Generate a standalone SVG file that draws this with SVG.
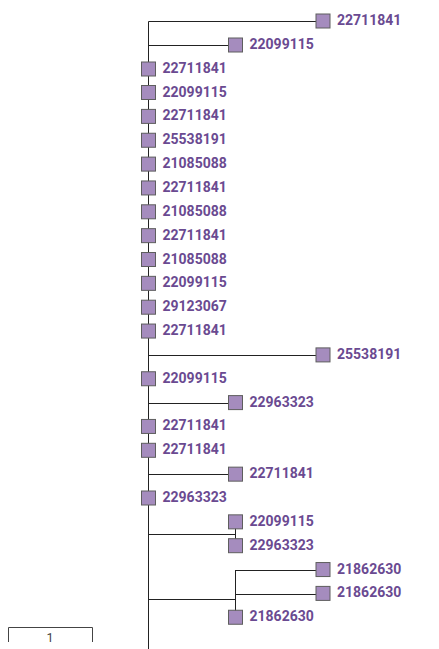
<svg xmlns="http://www.w3.org/2000/svg" width="439" height="649" viewBox="0 0 439 649">
<style>
.e{stroke:#222;stroke-width:1;fill:none}
.b{fill:#a58cbe;stroke:#5e5e5e;stroke-width:1}
.t{font-family:Roboto,"Liberation Sans",sans-serif;font-weight:bold;font-size:14px;fill:#6a4a91}
.s{font-family:Roboto,"Liberation Sans",sans-serif;font-size:12.5px;fill:#444}
</style>
<rect width="439" height="649" fill="#fff"/>
<g id="connectors">
<path class="e" d="M148.5 21.5V649"/>
<path class="e" d="M148.5 21.5H316"/>
<path class="e" d="M148.5 45.5H228"/>
<path class="e" d="M148.5 355.5H316"/>
<path class="e" d="M148.5 403.5H228"/>
<path class="e" d="M148.5 474.5H228"/>
<path class="e" d="M148.5 534.5H235.5M235.5 522V546"/>
<path class="e" d="M148.5 599.5H235.5M235.5 570V617M235.5 570.5H316M235.5 594.5H316"/>
</g>
<g id="n0"><rect class="b" x="316" y="14" width="14" height="14"/><text class="t" x="337" y="25">22711841</text></g>
<g id="n1"><rect class="b" x="228.5" y="38" width="14" height="14"/><text class="t" x="249.5" y="49">22099115</text></g>
<g id="n2"><rect class="b" x="141.5" y="62" width="14" height="14"/><text class="t" x="162.5" y="73">22711841</text></g>
<g id="n3"><rect class="b" x="141.5" y="85.5" width="14" height="14"/><text class="t" x="162.5" y="96.5">22099115</text></g>
<g id="n4"><rect class="b" x="141.5" y="109.4" width="14" height="14"/><text class="t" x="162.5" y="120.4">22711841</text></g>
<g id="n5"><rect class="b" x="141.5" y="133.25" width="14" height="14"/><text class="t" x="162.5" y="144.25">25538191</text></g>
<g id="n6"><rect class="b" x="141.5" y="157.1" width="14" height="14"/><text class="t" x="162.5" y="168.1">21085088</text></g>
<g id="n7"><rect class="b" x="141.5" y="180.95" width="14" height="14"/><text class="t" x="162.5" y="191.95">22711841</text></g>
<g id="n8"><rect class="b" x="141.5" y="204.8" width="14" height="14"/><text class="t" x="162.5" y="215.8">21085088</text></g>
<g id="n9"><rect class="b" x="141.5" y="228.65" width="14" height="14"/><text class="t" x="162.5" y="239.65">22711841</text></g>
<g id="n10"><rect class="b" x="141.5" y="252.5" width="14" height="14"/><text class="t" x="162.5" y="263.5">21085088</text></g>
<g id="n11"><rect class="b" x="141.5" y="276.35" width="14" height="14"/><text class="t" x="162.5" y="287.35">22099115</text></g>
<g id="n12"><rect class="b" x="141.5" y="300.2" width="14" height="14"/><text class="t" x="162.5" y="311.2">29123067</text></g>
<g id="n13"><rect class="b" x="141.5" y="324.05" width="14" height="14"/><text class="t" x="162.5" y="335.05">22711841</text></g>
<g id="n14"><rect class="b" x="316" y="347.9" width="14" height="14"/><text class="t" x="337" y="358.9">25538191</text></g>
<g id="n15"><rect class="b" x="141.5" y="371.75" width="14" height="14"/><text class="t" x="162.5" y="382.75">22099115</text></g>
<g id="n16"><rect class="b" x="228.5" y="395.6" width="14" height="14"/><text class="t" x="249.5" y="406.6">22963323</text></g>
<g id="n17"><rect class="b" x="141.5" y="419.45" width="14" height="14"/><text class="t" x="162.5" y="430.45">22711841</text></g>
<g id="n18"><rect class="b" x="141.5" y="443.3" width="14" height="14"/><text class="t" x="162.5" y="454.3">22711841</text></g>
<g id="n19"><rect class="b" x="228.5" y="467.15" width="14" height="14"/><text class="t" x="249.5" y="478.15">22711841</text></g>
<g id="n20"><rect class="b" x="141.5" y="491" width="14" height="14"/><text class="t" x="162.5" y="502">22963323</text></g>
<g id="n21"><rect class="b" x="228.5" y="514.85" width="14" height="14"/><text class="t" x="249.5" y="525.85">22099115</text></g>
<g id="n22"><rect class="b" x="228.5" y="538.7" width="14" height="14"/><text class="t" x="249.5" y="549.7">22963323</text></g>
<g id="n23"><rect class="b" x="316" y="562.55" width="14" height="14"/><text class="t" x="337" y="573.55">21862630</text></g>
<g id="n24"><rect class="b" x="316" y="586.4" width="14" height="14"/><text class="t" x="337" y="597.4">21862630</text></g>
<g id="n25"><rect class="b" x="228.5" y="610.25" width="14" height="14"/><text class="t" x="249.5" y="621.25">21862630</text></g>
<g id="scale">
<path d="M8.5 642V627.5H92.5V642" fill="none" stroke="#444" stroke-width="1"/>
<text class="s" x="50" y="642" text-anchor="middle">1</text>
</g>
</svg>
